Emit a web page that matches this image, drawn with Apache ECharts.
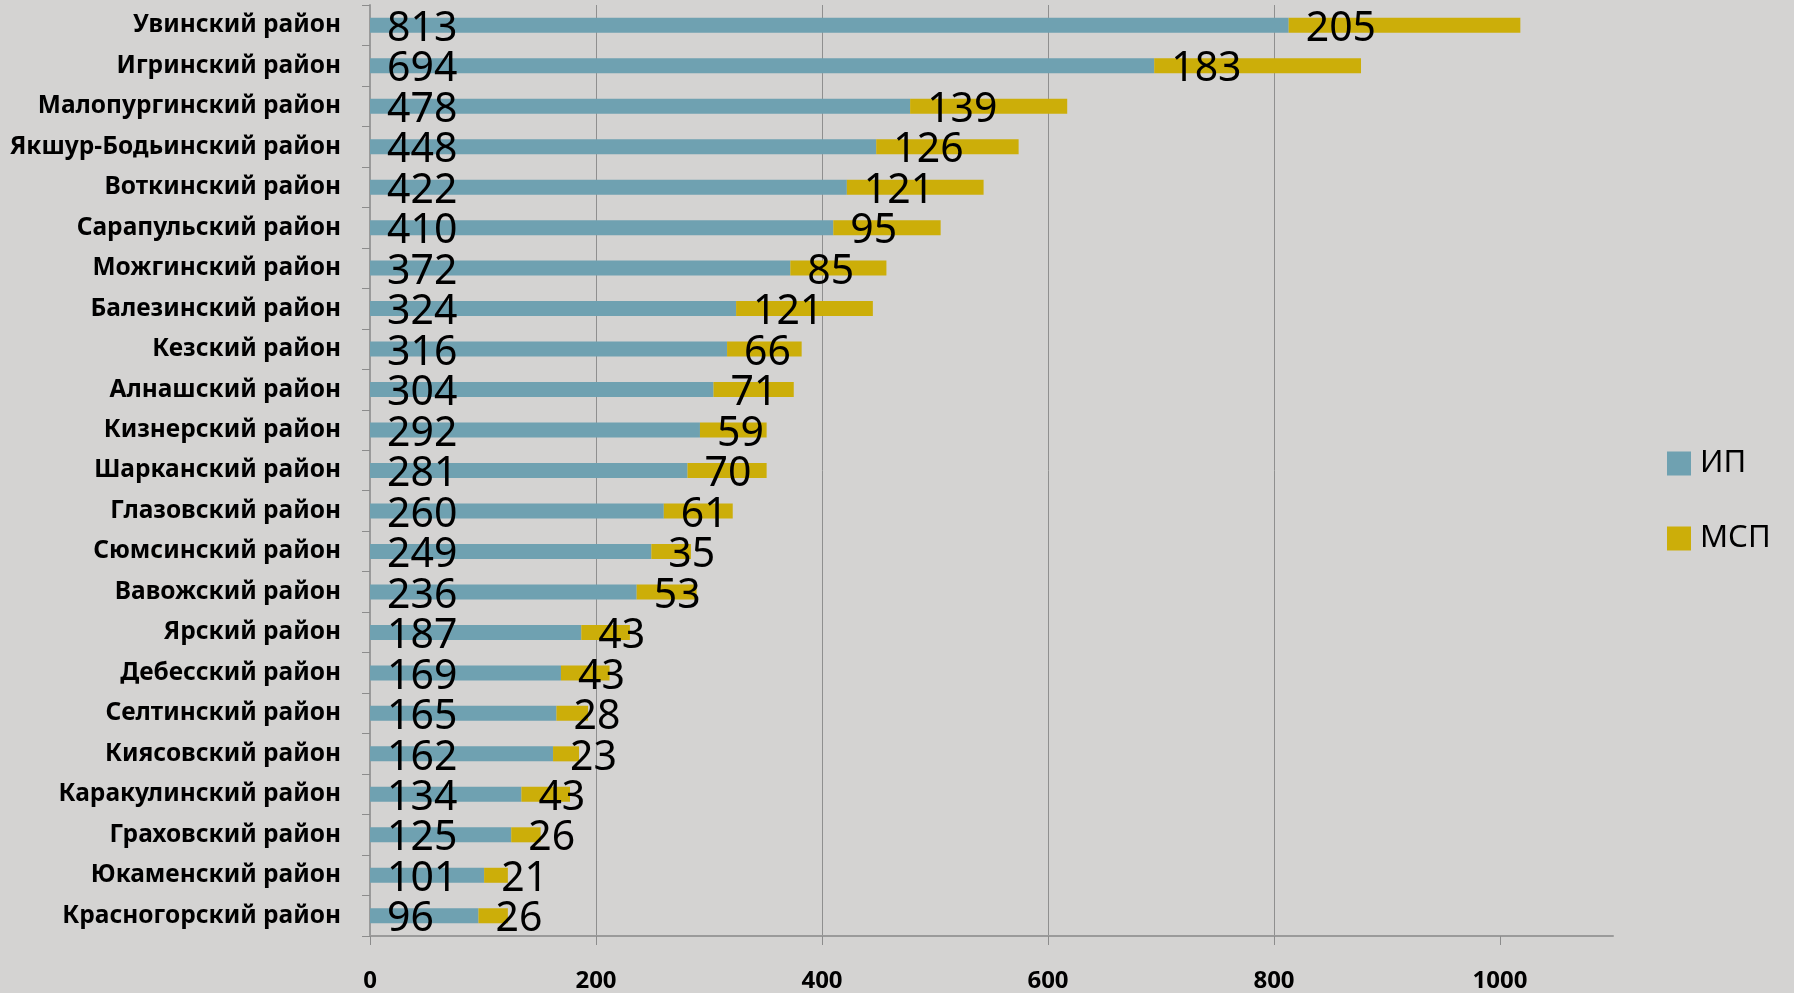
<!DOCTYPE html>
<html>
<head>
<meta charset="utf-8">
<script src="https://cdn.jsdelivr.net/npm/echarts@6/dist/echarts.min.js"></script>
<style>
  html, body { margin: 0; padding: 0; background: #d4d3d2; }
  #chart { width: 1794px; height: 993px; }
</style>
</head>
<body>
<div id="chart"></div>
<script>
const districts = [
  "Увинский район", "Игринский район", "Малопургинский район", "Якшур-Бодьинский район",
  "Воткинский район", "Сарапульский район", "Можгинский район", "Балезинский район",
  "Кезский район", "Алнашский район", "Кизнерский район", "Шарканский район",
  "Глазовский район", "Сюмсинский район", "Вавожский район", "Ярский район",
  "Дебесский район", "Селтинский район", "Киясовский район", "Каракулинский район",
  "Граховский район", "Юкаменский район", "Красногорский район"
];
const ipValues = [813, 694, 478, 448, 422, 410, 372, 324, 316, 304, 292, 281, 260, 249, 236, 187, 169, 165, 162, 134, 125, 101, 96];
const mspValues = [205, 183, 139, 126, 121, 95, 85, 121, 66, 71, 59, 70, 61, 35, 53, 43, 43, 28, 23, 43, 26, 21, 26];
const xTicks = [0, 200, 400, 600, 800, 1000];

const chart = echarts.init(document.getElementById("chart"));

// подпись на сегменте: от начала сегмента, крупным шрифтом
const barLabel = {
  show: true,
  position: "insideLeft",
  distance: 17,
  color: "#000",
  fontFamily: "Noto Sans",
  fontSize: 41,
  offset: [0, 4],
};

chart.setOption({
  backgroundColor: "#d4d3d2",
  animation: false,
  grid: { left: 370, right: 181, top: 5, bottom: 57, containLabel: false },
  legend: {
    orient: "vertical",
    left: 1662,
    top: 443,
    itemWidth: 24,
    itemHeight: 24,
    itemGap: 44,
    icon: "rect",
    textStyle: { color: "#000", fontFamily: "Noto Sans", fontSize: 31, lineHeight: 30, padding: [0, 0, 0, 4] },
    data: ["ИП", "МСП"],
  },
  xAxis: {
    type: "value",
    min: 0,
    max: 1100,
    interval: 200,
    axisLine: { show: true, lineStyle: { color: "#9a9a9a", width: 2 } },
    axisTick: { show: true, length: 9, customValues: xTicks, lineStyle: { color: "#8c8c8c" } },
    splitLine: { show: true, showMaxLine: false, lineStyle: { color: "#8f8f8f", width: 1 } },
    axisLabel: {
      margin: 33,
      color: "#000",
      fontFamily: "Noto Sans",
      fontWeight: "bold",
      fontSize: 24,
      customValues: xTicks,
      formatter: (v) => (xTicks.includes(v) ? String(v) : ""),
    },
  },
  yAxis: {
    type: "category",
    inverse: true,
    data: districts,
    axisLine: { show: true, lineStyle: { color: "#9a9a9a", width: 2 } },
    axisTick: { show: true, length: 8, lineStyle: { color: "#8c8c8c" } },
    axisLabel: {
      margin: 29,
      color: "#000",
      fontFamily: "Noto Sans",
      fontWeight: "bold",
      fontSize: 24.5,
    },
  },
  series: [
    {
      name: "ИП",
      type: "bar",
      stack: "total",
      barWidth: 15,
      itemStyle: { color: "#6fa1b1" },
      label: barLabel,
      data: ipValues,
    },
    {
      name: "МСП",
      type: "bar",
      stack: "total",
      barWidth: 15,
      itemStyle: { color: "#ccae09" },
      label: barLabel,
      data: mspValues,
    },
  ],
});
</script>
</body>
</html>
